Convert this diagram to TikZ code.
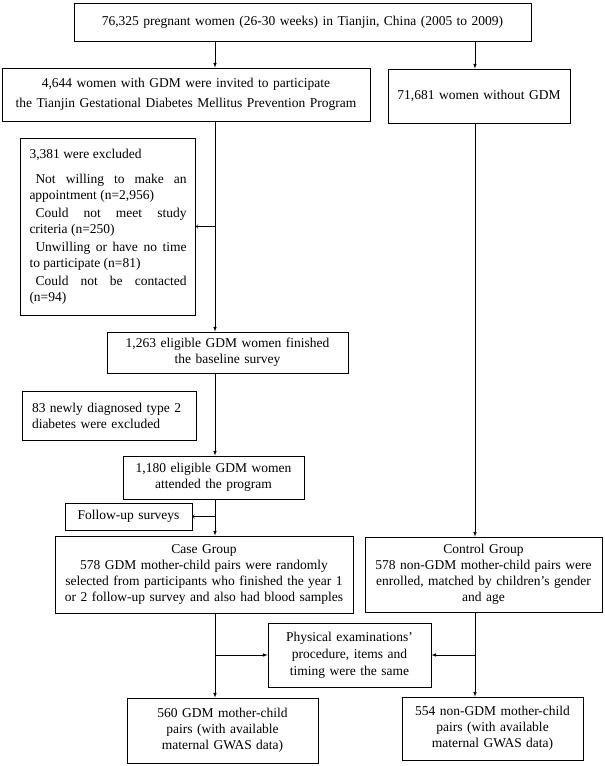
\documentclass[tikz,border=0pt]{standalone}
\usepackage{fontspec}
\setmainfont{Liberation Serif}
\usetikzlibrary{shapes,arrows}

\begin{document}
\begin{tikzpicture}[x=1pt, y=-1pt,
    box/.style={draw, line width=0.9pt, inner xsep=3pt, inner ysep=2pt, align=center, font=\fontsize{13.5}{16}\selectfont},
    arr/.style={-latex, line width=0.6pt},
    side/.style={->, line width=0.6pt}]

    \useasboundingbox (0,0) rectangle (605,766);

    \coordinate (mainx) at (215, 0);
    \coordinate (ctrlx) at (475, 0);

    \node[box, text width=451pt, minimum height=38pt] (pregnant) at (302.5, 22) {76,325 pregnant women (26-30 weeks) in Tianjin, China (2005 to 2009)};
    \node[box, text width=362pt, minimum height=53pt, font=\fontsize{13.5}{20}\selectfont] (gdm) at (186, 94.5) {4,644 women with GDM were invited to participate\\the Tianjin Gestational Diabetes Mellitus Prevention Program};
    \node[box, text width=176pt, minimum height=54pt] (nongdm) at (479, 96) {71,681 women without GDM};

    \node[box, text width=157pt, inner xsep=9pt, minimum height=177pt, align=justify] (excluded) at (108, 226.5) {\hyphenpenalty=10000 3,381 were excluded\par\vspace{9pt}
        \hspace*{6pt}Not willing to make an\linebreak appointment (n=2,956)\par\vspace{2pt}
        \hspace*{6pt}Could not meet study\linebreak criteria (n=250)\par\vspace{2pt}
        \hspace*{6pt}Unwilling or have no time\linebreak to participate (n=81)\par\vspace{2pt}
        \hspace*{6pt}Could not be contacted\linebreak (n=94)};

    \node[box, text width=235pt, minimum height=41pt] (baseline) at (227.5, 352.5) {1,263 eligible GDM women finished\\the baseline survey};
    \node[box, text width=154pt, inner xsep=10pt, minimum height=49pt, align=left] (newdm) at (109, 415.5) {83 newly diagnosed type 2\\diabetes were excluded};
    \node[box, text width=175pt, minimum height=43pt] (attended) at (213.5, 477.5) {1,180 eligible GDM women\\attended the program};
    \node[box, text width=121pt, minimum height=27pt] (followup) at (128.5, 516.5) {Follow-up surveys};

    \node[box, text width=292pt, minimum height=77pt] (casegrp) at (204, 574.5) {Case Group\\578 GDM mother-child pairs were randomly\\selected from participants who finished the year 1\\or 2 follow-up survey and also had blood samples};
    \node[box, text width=231pt, minimum height=75pt] (ctrlgrp) at (483.5, 574.5) {Control Group\\578 non-GDM mother-child pairs were\\enrolled, matched by children's gender\\and age};
    \node[box, text width=157pt, minimum height=64pt, font=\fontsize{13.5}{17}\selectfont] (physical) at (349.5, 655) {Physical examinations'\\procedure, items and\\timing were the same};

    \node[box, text width=185pt, minimum height=65pt] (casegwas) at (222.5, 730.5) {560 GDM mother-child\\pairs (with available\\maternal GWAS data)};
    \node[box, text width=175pt, minimum height=63pt] (ctrlgwas) at (492.5, 728.5) {554 non-GDM mother-child\\pairs (with available\\maternal GWAS data)};

    \draw[arr] (pregnant.south -| mainx) -- (gdm.north -| mainx);
    \draw[arr] (pregnant.south -| ctrlx) -- (nongdm.north -| ctrlx);
    \draw[arr] (gdm.south -| mainx) -- (baseline.north -| mainx);
    \draw[side] (excluded.east -| mainx) -- (excluded.east);
    \draw[arr] (baseline.south -| mainx) -- (attended.north -| mainx);
    \draw[arr] (attended.south -| mainx) -- (casegrp.north -| mainx);
    \draw[side] (followup.east -| mainx) -- (followup.east);
    \draw[arr] (nongdm.south -| ctrlx) -- (ctrlgrp.north -| ctrlx);
    \draw[arr] (casegrp.south -| mainx) -- (casegwas.north -| mainx);
    \draw[arr] (physical.west -| mainx) -- (physical.west);
    \draw[arr] (ctrlgrp.south -| ctrlx) -- (ctrlgwas.north -| ctrlx);
    \draw[arr] (physical.east -| ctrlx) -- (physical.east);

\end{tikzpicture}
\end{document}
